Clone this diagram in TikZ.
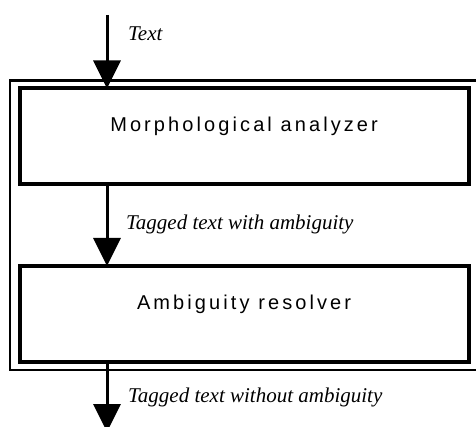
\documentclass[tikz,border=0pt]{standalone}
\usepackage{fontspec}
\setmainfont{Liberation Serif}
\newfontfamily\stagefont[LetterSpace=15.5]{Liberation Sans}
\usetikzlibrary{arrows.meta}
\begin{document}
\begin{tikzpicture}[x=1pt,y=-1pt,
  frame/.style={draw, line width=2.6pt, minimum width=468pt, minimum height=289.7pt,
    inner sep=0pt, outer sep=0pt, anchor=north west},
  stage/.style={draw, line width=4pt, minimum width=449pt, minimum height=95.5pt,
    inner sep=0pt, outer sep=0pt, anchor=north west},
  stagelabel/.style={font=\stagefont\fontsize{20}{24}\selectfont, inner sep=0pt, anchor=base},
  flowlabel/.style={font=\itshape\fontsize{21}{24}\selectfont, inner sep=0pt, anchor=base west},
  flow/.style={line width=3pt, -{Triangle[width=27pt,length=28pt]}}]
  \useasboundingbox (0,0) rectangle (476,427);

  % outer frame around the two processing stages
  \node[frame] (system) at (10,80.3) {};

  % processing stages
  \node[stage] (morph) at (19.6,88.5) {};
  \node[stage] (resolver) at (19.6,266) {};
  \node[stagelabel] (morphtext) at ([yshift=4.3pt]morph.center) {Morphological analyzer};
  \node[stagelabel] (resolvertext) at ([yshift=4.3pt]resolver.center) {Ambiguity resolver};

  % data flow
  \coordinate (in) at (107,15);
  \coordinate (out) at (107,432);
  \draw[flow] (in) -- (in |- morph.north);
  \draw[flow] (in |- morph.south) -- (in |- resolver.north);
  \draw[flow] (in |- resolver.south) -- (out);

  % flow labels
  \node[flowlabel] (intext) at (128,41) {Text};
  \node[flowlabel] (midtext) at (126,230) {Tagged text with ambiguity};
  \node[flowlabel] (outtext) at (128,402.7) {Tagged text without ambiguity};
\end{tikzpicture}
\end{document}
